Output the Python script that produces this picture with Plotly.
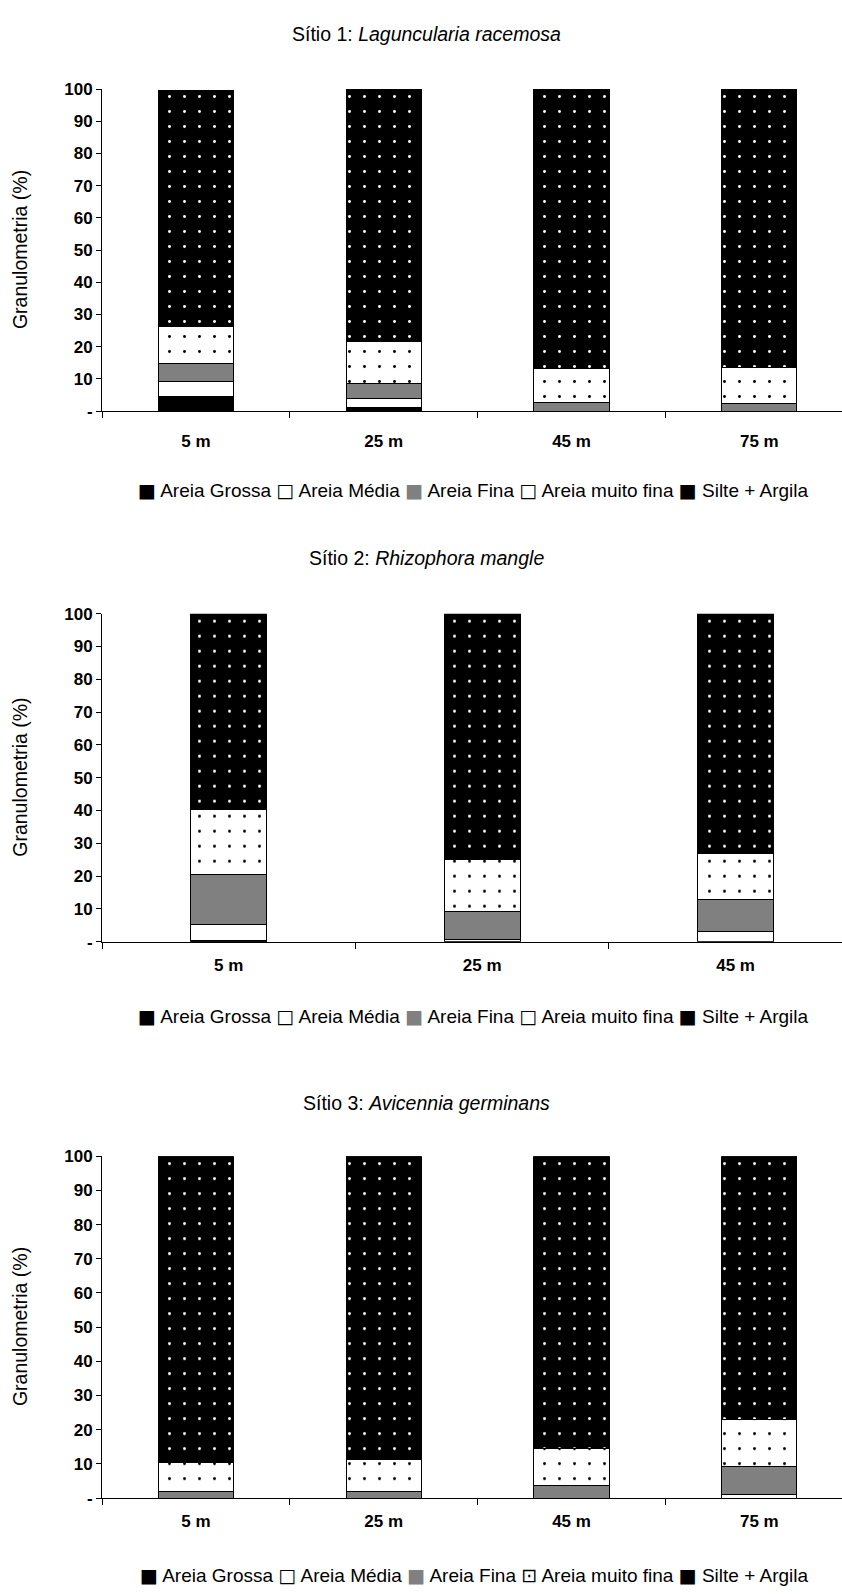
import plotly.graph_objects as go

# ---------------- data ----------------
series = ["Areia Grossa", "Areia Média", "Areia Fina", "Areia muito fina", "Silte + Argila"]

cats1 = ["5 m", "25 m", "45 m", "75 m"]
s1_grossa = [4.5, 1.2, 0, 0]
s1_media = [4.6, 2.8, 0, 0]
s1_fina = [5.7, 4.5, 2.7, 2.4]
s1_mfina = [11.5, 13.1, 10.6, 11.3]
s1_silte = [73.2, 78.4, 86.7, 86.3]

cats2 = ["5 m", "25 m", "45 m"]
s2_grossa = [0.3, 0, 0]
s2_media = [5.1, 0.8, 3.0]
s2_fina = [15.1, 8.5, 9.8]
s2_mfina = [19.8, 15.7, 14.1]
s2_silte = [59.7, 75.0, 73.1]

cats3 = ["5 m", "25 m", "45 m", "75 m"]
s3_grossa = [0, 0, 0, 0]
s3_media = [0, 0, 0, 0.9]
s3_fina = [2.0, 2.0, 3.6, 8.2]
s3_mfina = [8.3, 9.3, 11.0, 13.8]
s3_silte = [89.7, 88.7, 85.4, 77.1]

titles = ["Sítio 1: <i>Laguncularia racemosa</i>",
          "Sítio 2: <i>Rhizophora mangle</i>",
          "Sítio 3: <i>Avicennia germinans</i>"]

yticks = [0, 10, 20, 30, 40, 50, 60, 70, 80, 90, 100]
yticktext = ["-", "10", "20", "30", "40", "50", "60", "70", "80", "90", "100"]

# legend symbols (Excel-style legend line)
legend_symbols = [
    ["■", "□", "■", "□", "■"],
    ["■", "□", "■", "□", "■"],
    ["■", "□", "■", "⊡", "■"],
]
legend_symbol_colors = ["black", "black", "#808080", "black", "black"]

# ---------------- style ----------------
W, H = 842, 1596
FONT = "Liberation Sans, Arial, sans-serif"


def py(px):
    return 1 - px / H


styles = [
    dict(color="black", pattern=None),
    dict(color="white", pattern=None),
    dict(color="#808080", pattern=None),
    dict(color="white", pattern=dict(shape=".", fillmode="replace", bgcolor="white",
                                     fgcolor="black", size=15, solidity=0.03)),
    dict(color="black", pattern=dict(shape=".", fillmode="replace", bgcolor="black",
                                     fgcolor="white", size=15, solidity=0.03)),
]

charts = [
    dict(cats=cats1, vals=[s1_grossa, s1_media, s1_fina, s1_mfina, s1_silte],
         top=81, bottom=407, title_y=25, legend_y=487, width=0.4, standoff=14, right=3.44),
    dict(cats=cats2, vals=[s2_grossa, s2_media, s2_fina, s2_mfina, s2_silte],
         top=612, bottom=944, title_y=556, legend_y=1019, width=0.3, standoff=8, right=2.42),
    dict(cats=cats3, vals=[s3_grossa, s3_media, s3_fina, s3_mfina, s3_silte],
         top=1161, bottom=1507, title_y=1107, legend_y=1585, width=0.4, standoff=8, right=3.44),
]

fig = go.Figure()
layout = dict(
    width=W, height=H, margin=dict(l=0, r=0, t=0, b=0),
    paper_bgcolor="white", plot_bgcolor="white",
    barmode="stack", showlegend=False,
    font=dict(family=FONT, size=17, color="black"),
)
annotations = []

for i, ch in enumerate(charts):
    n = i + 1
    xa = "x" if n == 1 else f"x{n}"
    ya = "y" if n == 1 else f"y{n}"
    for j, name in enumerate(series):
        st = styles[j]
        marker = dict(color=st["color"], line=dict(color="black", width=1))
        if st["pattern"]:
            marker["pattern"] = st["pattern"]
        fig.add_trace(go.Bar(
            x=ch["cats"], y=ch["vals"][j], name=name, marker=marker,
            width=ch["width"], xaxis=xa, yaxis=ya, showlegend=False,
        ))
    xkey = "xaxis" if n == 1 else f"xaxis{n}"
    ykey = "yaxis" if n == 1 else f"yaxis{n}"
    layout[xkey] = dict(
        domain=[102 / W, 1.0], anchor=ya, type="category",
        range=[-0.5, ch["right"]], showgrid=False, zeroline=False,
        showline=True, linecolor="black", linewidth=1,
        ticks="outside", ticklen=6, tickcolor="black", tickson="boundaries",
        tickfont=dict(family=FONT, size=17, color="black", weight="bold"),
        ticklabelstandoff=ch["standoff"],
    )
    layout[ykey] = dict(
        domain=[py(ch["bottom"]), py(ch["top"])], anchor=xa,
        range=[0, 100], showgrid=False, zeroline=False,
        showline=True, linecolor="black", linewidth=1,
        ticks="outside", ticklen=5, tickcolor="black",
        tickvals=yticks, ticktext=yticktext,
        tickfont=dict(family=FONT, size=17, color="black", weight="bold"),
    )
    parts = []
    for sym, col, name in zip(legend_symbols[i], legend_symbol_colors, series):
        parts.append(
            f"<span style=\"font-family:'DejaVu Sans';color:{col}\">{sym}</span> {name}"
        )
    legend_text = " ".join(parts)
    annotations.append(dict(
        text=legend_text, x=811 / W, xanchor="right", y=py(ch["legend_y"]), yanchor="middle",
        xref="paper", yref="paper", showarrow=False,
        font=dict(family=FONT, size=19, color="black"),
    ))
    annotations.append(dict(
        text=titles[i], x=426 / W, y=py(ch["title_y"]), xref="paper", yref="paper",
        xanchor="center", yanchor="middle", showarrow=False,
        font=dict(family=FONT, size=19.5, color="black"),
    ))
    annotations.append(dict(
        text="Granulometria (%)", textangle=-90, x=20 / W, xanchor="center",
        y=py((ch["top"] + ch["bottom"]) / 2), yanchor="middle",
        xref="paper", yref="paper", showarrow=False,
        font=dict(family=FONT, size=19.5, color="black"),
    ))

layout["annotations"] = annotations
fig.update_layout(**layout)
fig.write_html("out.html")
